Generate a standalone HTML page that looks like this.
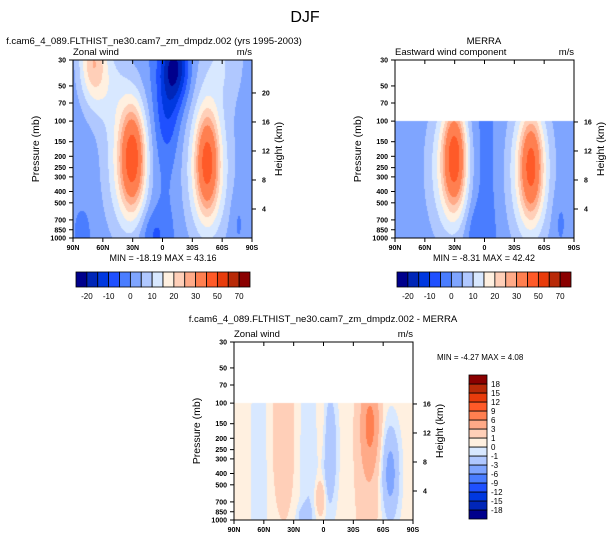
<!DOCTYPE html>
<html><head><meta charset="utf-8">
<style>
html,body{margin:0;padding:0;background:#fff;}
#wrap{position:relative;width:610px;height:541px;overflow:hidden;font-family:"Liberation Sans",Arial,sans-serif;}
canvas{position:absolute;}
svg{position:absolute;left:0;top:0;}
</style></head>
<body>
<div id="wrap">
<canvas id="c1" width="179" height="178" style="left:73px;top:60px"></canvas>
<canvas id="c2" width="179" height="178" style="left:395px;top:60px"></canvas>
<canvas id="c3" width="179" height="178" style="left:234px;top:342px"></canvas>
<svg id="svg" width="610" height="541" xmlns="http://www.w3.org/2000/svg"></svg>
</div>
<script>
// ---- data ----
const colors = ["#00008c","#0026b8","#0038e0","#1f50ff","#4a7dff","#7fa5ff","#b0c8ff","#d8e8ff","#fff0e0","#ffcfb8","#ffaa88","#ff7f50","#ff5a28","#e83c0c","#b82a08","#8a0000"];
const levels1 = [-20,-15,-10,-5,0,5,10,15,20,25,30,40,50,60,70];
const levels3 = [-18,-15,-12,-9,-6,-3,-1,0,1,3,6,9,12,15,18];
const cb1Labels = ["-20","-10","0","10","20","30","50","70"];
const cb3Labels = ["18","15","12","9","6","3","1","0","-1","-3","-6","-9","-12","-15","-18"];
const pTicks = [30,50,70,100,150,200,250,300,400,500,700,850,1000];
const zTicks = [4,8,12,16,20];
const latTicks = [90,60,30,0,-30,-60,-90];
const latLabels = ["90N","60N","30N","0","30S","60S","90S"];
// field components: [lat, pressure, amplitude, latWidth, logpWidth]
const base1 = 1;
const blobs1 = [
 [30,200,30,12,0.42],[33,250,18,24,0.6],[70,30,20,14,0.35],[55,50,8,22,0.4],
 [-45,220,27,11,0.42],[-45,260,18,23,0.62],[-60,30,8,24,0.4],
 [-12,35,-22,14,0.3],[-5,90,-8,12,0.35],[5,300,-4,20,1.0],[10,900,-6,14,0.2],[80,900,-3,8,0.2],[-75,700,-3,7,0.25]
];
const base2 = 1;
const blobs2 = [
 [30,200,30,11,0.42],[33,250,18,23,0.6],
 [-47,240,26,11,0.42],[-45,270,18,22,0.62],
 [5,300,-5,18,1.0],[8,850,-4,12,0.2],[-75,700,-3,7,0.25]
];
const base3 = 0.5;
const blobs3 = [
 [65,400,-1.5,8,1.2],[15,400,-1.5,9,1.2],[-5,250,-4,8,0.5],[-47,150,5,9,0.35],[-45,300,2,12,0.8],
 [-67,400,-4.5,9,0.4],[40,200,2,10,0.6],[3,650,3,5,0.15],[0,200,2,6,0.4],[20,950,-2,7,0.1]
];
const plots = [
 {id:"c1",x:73,y:60,blobs:blobs1,base:base1,levels:levels1,pMin:30},
 {id:"c2",x:395,y:60,blobs:blobs2,base:base2,levels:levels1,pMin:100},
 {id:"c3",x:234,y:342,blobs:blobs3,base:base3,levels:levels3,pMin:100}
];
// ---- axes ----
const W=179,H=178;
const L30=Math.log(30),L1000=Math.log(1000);
const yOfP=p=>(Math.log(p)-L30)/(L1000-L30)*H;
const pOfY=y=>Math.exp(L30+y/H*(L1000-L30));
const xOfLat=lat=>(90-lat)/180*W;
const latOfX=x=>90-x/W*180;
function field(blobs,base,lat,p){
 let v=base;const lp=Math.log10(p);
 for(const b of blobs){const dl=(lat-b[0])/b[3],dz=(lp-Math.log10(b[1]))/b[4];v+=b[2]*Math.exp(-dl*dl-dz*dz);}
 return v;
}
function colorIdx(v,lev){let i=0;while(i<lev.length&&v>=lev[i])i++;return i;}
plots.forEach(pl=>{
 const ctx=document.getElementById(pl.id).getContext('2d');
 ctx.fillStyle="#fff";ctx.fillRect(0,0,W,H);
 for(let y=0;y<H;y++){const p=pOfY(y+0.5);if(p<pl.pMin)continue;
  for(let x=0;x<W;x++){const v=field(pl.blobs,pl.base,latOfX(x+0.5),p);
   ctx.fillStyle=colors[colorIdx(v,pl.levels)];ctx.fillRect(x,y,1,1);}}
});
// ---- svg overlay ----
const svg=document.getElementById('svg');const NS="http://www.w3.org/2000/svg";
function el(tag,attrs,txt){const e=document.createElementNS(NS,tag);for(const k in attrs)e.setAttribute(k,attrs[k]);if(txt!==undefined)e.textContent=txt;svg.appendChild(e);return e;}
function text(x,y,s,size,anchor,name,extra){const t=el('text',Object.assign({x:x,y:y,'font-size':size,'text-anchor':anchor||'start','font-family':'Liberation Sans, Arial, sans-serif',fill:'#000'},extra||{}),s);
 
 return t;}
text(305,22,"DJF",16,"middle","figure-title");
text(154,44,"f.cam6_4_089.FLTHIST_ne30.cam7_zm_dmpdz.002 (yrs 1995-2003)",9.6,"middle","model-panel-title");
text(484,44,"MERRA",9.6,"middle","merra-panel-title");
text(323,322,"f.cam6_4_089.FLTHIST_ne30.cam7_zm_dmpdz.002 - MERRA",9.6,"middle","difference-panel-title");
const subt=[[73,"Zonal wind",252],[395,"Eastward wind component",574],[234,"Zonal wind",413]];
const tops=[60,60,342];
subt.forEach((s,i)=>{text(s[0],tops[i]-5,s[1],9.5,"start","variable-label");text(s[2],tops[i]-5,"m/s",9.5,"end","units-label");});
text(163,261,"MIN = -18.19  MAX =  43.16",9,"middle","model-min-max");
text(484,261,"MIN = -8.31  MAX =  42.42",9,"middle","merra-min-max");
text(437,360,"MIN = -4.27  MAX =  4.08",8,"start","difference-min-max");
plots.forEach((pl,i)=>{
 const X=pl.x,Y=pl.y;
 const g=el('rect',{x:X,y:Y,width:W,height:H,fill:'none',stroke:'#000','stroke-width':1});
 
 
 pTicks.forEach(p=>{const y=Y+yOfP(p);
  const t=el('line',{x1:X-4,x2:X,y1:y,y2:y,stroke:'#000','stroke-width':1});
  
  
  text(X-7,y+2.5,String(p),7,"end","pressure-tick-label",{'font-weight':'bold'});});
 zTicks.forEach(z=>{const p=1000*Math.exp(-z/7);if(p<pl.pMin&&i>0&&z>16)return;const y=Y+yOfP(p);
  const t=el('line',{x1:X+W,x2:X+W+4,y1:y,y2:y,stroke:'#000','stroke-width':1});
  
  
  text(X+W+10,y+2.5,String(z),7,"start","height-tick-label",{'font-weight':'bold'});});
 latTicks.forEach((lat,j)=>{const x=X+xOfLat(lat);
  const t=el('line',{x1:x,x2:x,y1:Y+H,y2:Y+H+4,stroke:'#000','stroke-width':1});
  
  
  const t2=el('line',{x1:x,x2:x,y1:Y,y2:Y+4,stroke:'#000','stroke-width':1});
  
  
  text(x,Y+H+12,latLabels[j],7,"middle","latitude-tick-label",{'font-weight':'bold'});});
 text(0,0,"Pressure (mb)",10.5,"middle","y-axis-title",{transform:`translate(${X-34},${Y+H/2}) rotate(-90)`});
 text(0,0,"Height (km)",10.5,"middle","right-axis-title",{transform:`translate(${X+W+30},${Y+H/2}) rotate(-90)`});
});
// horizontal colorbars
[[76,272],[397,272]].forEach(([x0,y0])=>{
 const bw=174/16;
 colors.forEach((c,k)=>{const r=el('rect',{x:x0+k*bw,y:y0,width:bw,height:15,fill:c,stroke:'#000','stroke-width':0.8});
  
  });
 cb1Labels.forEach((s,j)=>text(x0+(1+2*j)*bw,y0+27,s,8,"middle","colorbar-label"));
});
// vertical colorbar
{const x0=469,y0=375,bh=144/16;
 colors.forEach((c,k)=>{const r=el('rect',{x:x0,y:y0+(15-k)*bh,width:18,height:bh,fill:c,stroke:'#000','stroke-width':0.8});
  
  });
 cb3Labels.forEach((s,j)=>text(x0+22,y0+(j+1)*bh+3,s,8,"start","difference-colorbar-label"));
}
</script>
</body></html>
